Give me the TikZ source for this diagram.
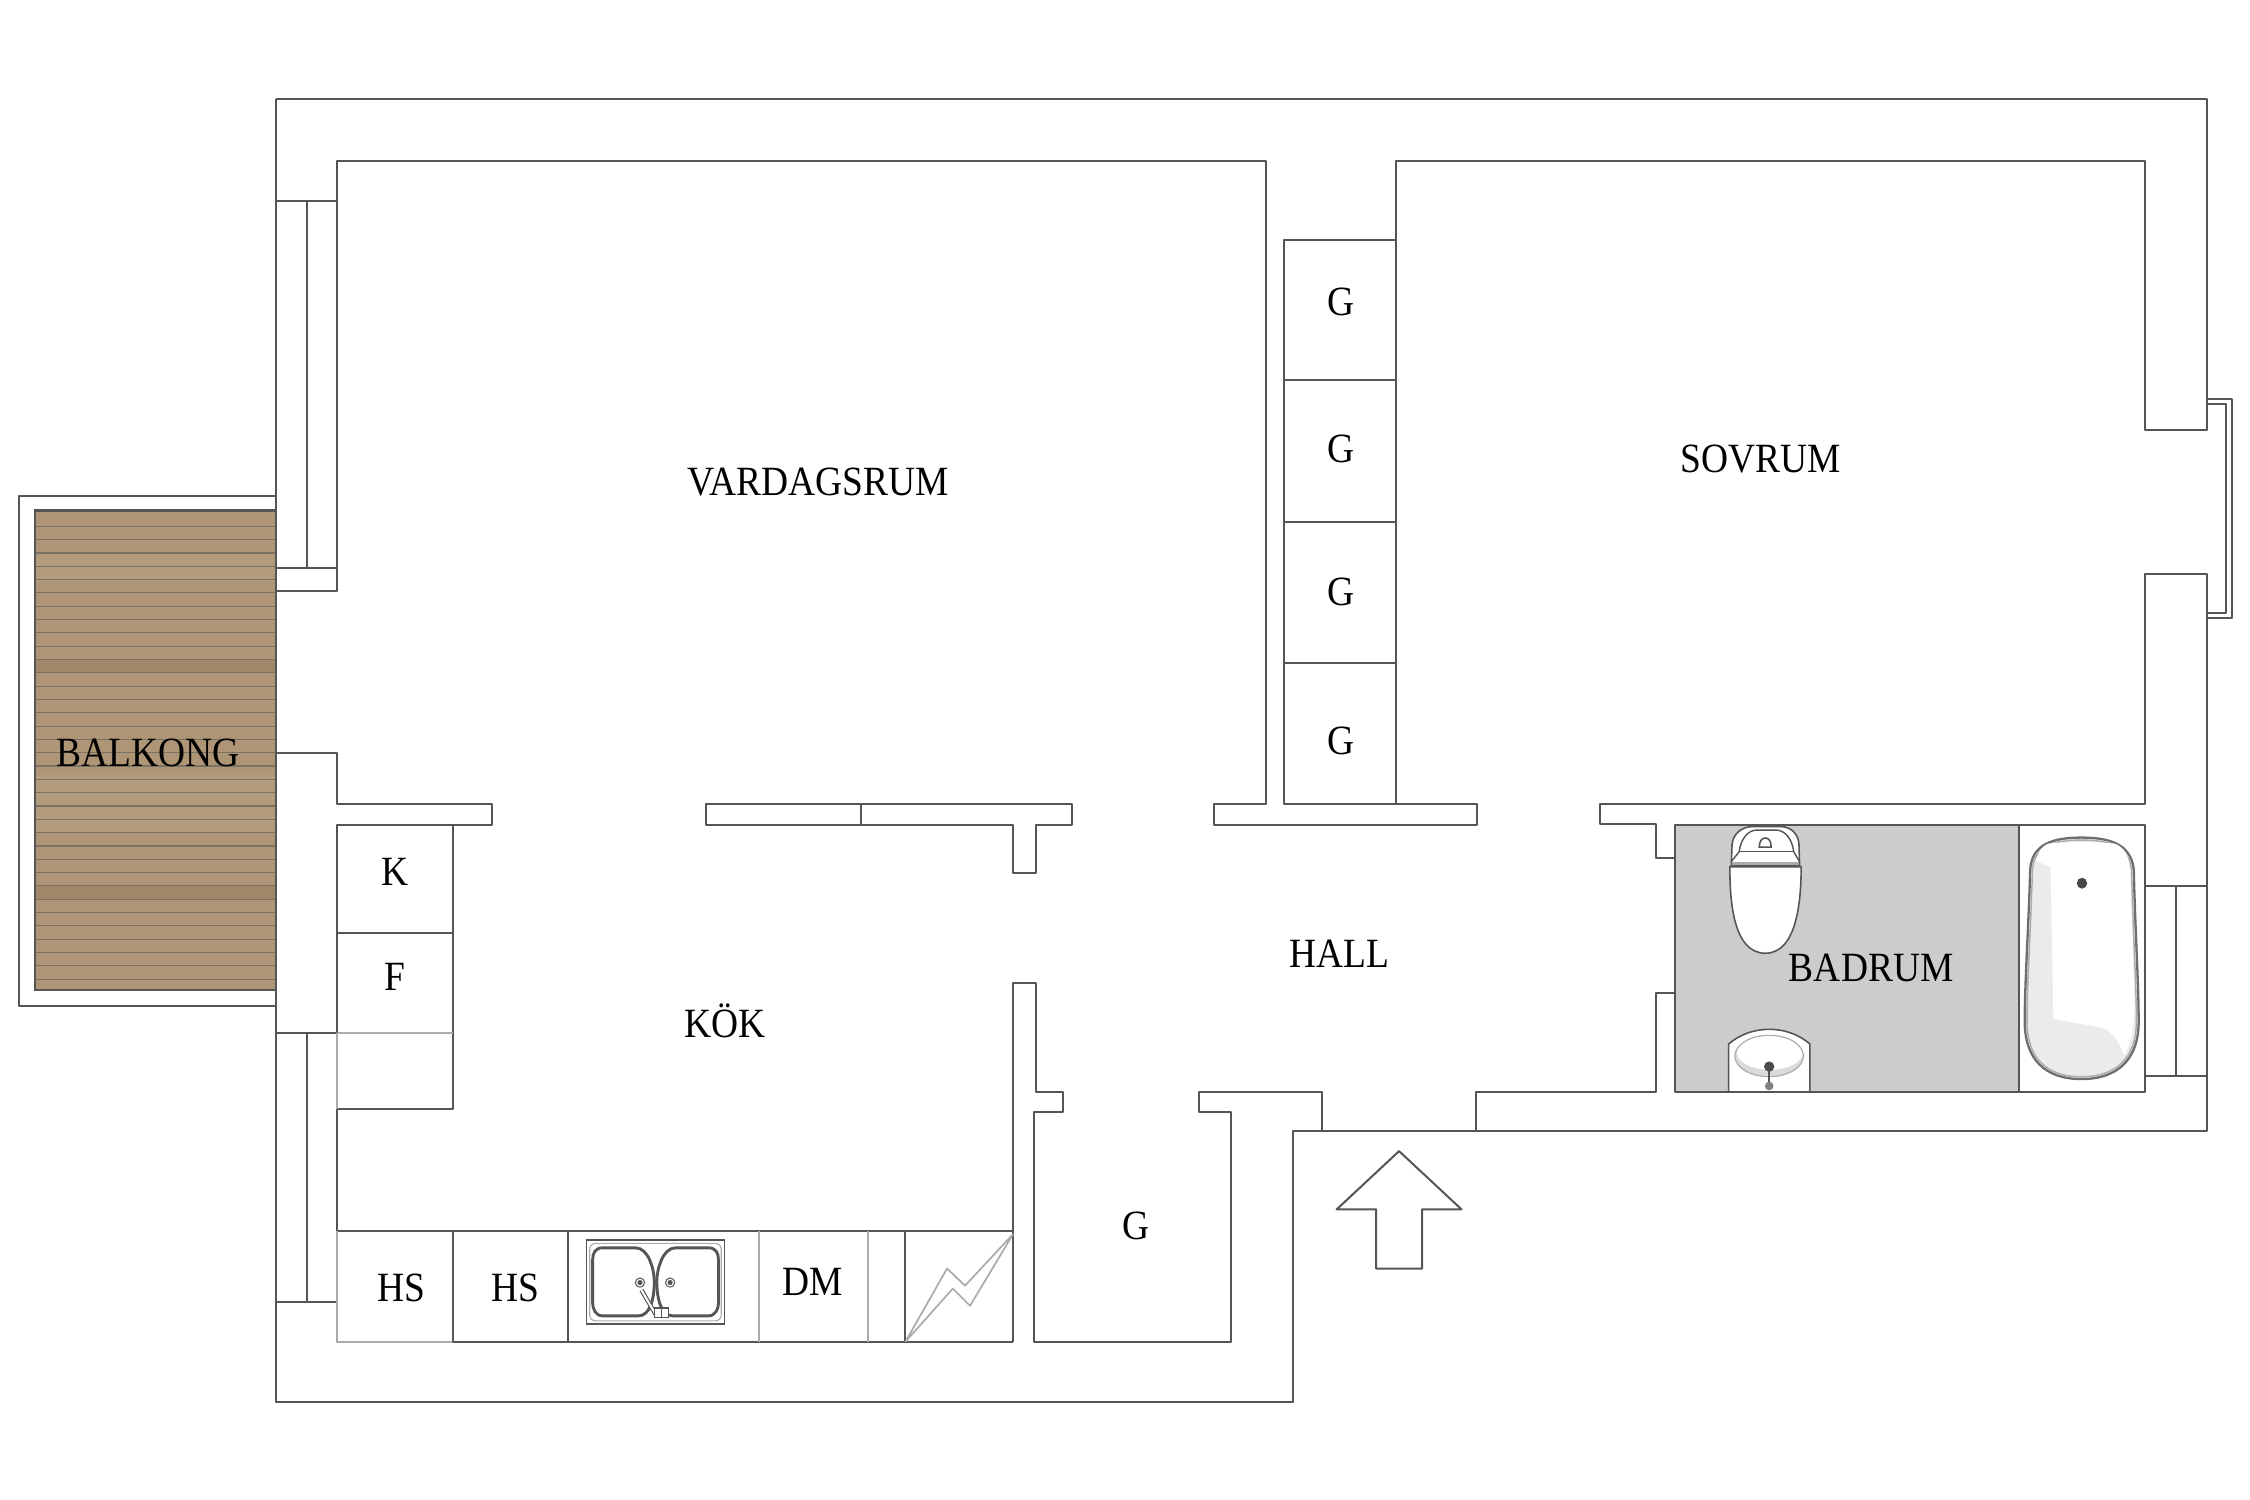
\documentclass[tikz,border=0pt]{standalone}
\usepackage{fontspec}
\setmainfont{Liberation Serif}[FakeStretch=0.9]
\usepackage{xcolor}
\usepackage{tikz}
\definecolor{palWall}{HTML}{555555}
\definecolor{palSoft}{HTML}{ABABAB}
\definecolor{palFloor}{HTML}{CCCCCC}
\definecolor{palWood}{HTML}{AD9575}
\definecolor{palWoodDk}{HTML}{A08868}
\definecolor{palWoodLt}{HTML}{B39C7C}
\definecolor{palPlank}{HTML}{7A7364}
\definecolor{palTub}{HTML}{EBEBEB}
\tikzset{
  wall/.style={draw=palWall, line width=0.7pt, line join=round},
  softline/.style={draw=palSoft, line width=0.6pt, line join=bevel},
  fixture/.style={draw=palWall, line width=0.55pt, fill=white},
  basin/.style={draw=palWall, line width=1pt},
  roomlabel/.style={font=\fontsize{14.5}{16}\selectfont, text=black, inner sep=0pt,
                    text height=9.6pt, text depth=0pt, yshift=0.3pt},
}

\begin{document}
\begin{tikzpicture}[x=0.5pt, y=-0.5pt]
\useasboundingbox (0,0) rectangle (1568,1045.33);

%% Balcony decking
\fill[palWood] (24.4,355.6) rectangle (192,690);
\fill[palWoodLt] (24.4,385) rectangle (192,405);
\fill[palWoodLt] (24.4,540) rectangle (192,580);
\fill[palWoodDk] (24.4,459) rectangle (192,469);
\fill[palWoodDk] (24.4,617) rectangle (192,627);
\foreach \i in {0,...,34}
  \draw[palPlank, line width=0.4pt] (24.4,366.8+9.28*\i) -- (192,366.8+9.28*\i);
\draw[palWall, line width=0.9pt] (192,355.6) -- (24.4,355.6) -- (24.4,690) -- (192,690);
\draw[wall] (192,346) -- (13,346) -- (13,701) -- (192,701);

%% Outer walls
\draw[wall] (192,69) -- (1538,69) -- (1538,300) -- (1495,300) -- (1495,112) -- (973,112)
  -- (973,560) -- (1029,560) -- (1029,575) -- (846,575) -- (846,560) -- (882,560)
  -- (882,112) -- (235,112) -- (235,412) -- (192,412);
\draw[wall] (192,69) -- (192,977) -- (901,977) -- (901,788) -- (1538,788) -- (1538,400)
  -- (1495,400) -- (1495,560) -- (1115,560) -- (1115,574) -- (1154,574) -- (1154,598)
  -- (1167,598);

%% Windows
\draw[wall] (192,140) -- (235,140);
\draw[wall] (214,140) -- (214,396);
\draw[wall] (192,396) -- (235,396);
\draw[wall] (192,720) -- (235,720);
\draw[wall] (214,720) -- (214,907);
\draw[wall] (192,907) -- (235,907);
\draw[wall] (1495,617.4) -- (1538,617.4);
\draw[wall] (1516.4,617.4) -- (1516.4,749.6);
\draw[wall] (1495,749.6) -- (1538,749.6);
\draw[wall] (1538,278) -- (1555.4,278) -- (1555.4,430.4) -- (1538,430.4);
\draw[wall] (1538,281.3) -- (1551.4,281.3) -- (1551.4,427.2) -- (1538,427.2);

%% Inner walls
\draw[wall] (192,525) -- (235,525) -- (235,560) -- (343,560) -- (343,575) -- (235,575) -- (235,720);
\draw[wall] (492,560) -- (747,560) -- (747,575) -- (722,575) -- (722,608.5) -- (706,608.5)
  -- (706,575) -- (492,575) -- cycle;
\draw[wall] (600,560) -- (600,575);
\draw[wall] (706,935) -- (706,685) -- (722,685) -- (722,761) -- (741,761) -- (741,775)
  -- (720.3,775) -- (720.3,935) -- (858,935) -- (858,775) -- (835.5,775) -- (835.5,761)
  -- (921.3,761) -- (921.3,788);
\draw[wall] (1028.6,788) -- (1028.6,761) -- (1154,761) -- (1154,692) -- (1167,692);

%% Wardrobes in the hall wall
\draw[wall] (973,167) -- (895,167) -- (895,560) -- (973,560);
\draw[wall] (895,265) -- (973,265);
\draw[wall] (895,363.5) -- (973,363.5);
\draw[wall] (895,462) -- (973,462);

%% Kitchen units
\draw[wall] (235,650) -- (316,650);
\draw[wall] (316,575) -- (316,772.5) -- (235,772.5) -- (235,858);
\draw[softline] (235,720) -- (316,720);
\draw[softline] (235,720) -- (235,772.5);
\draw[wall] (235,858) -- (706,858);
\draw[softline] (235,858) -- (235,935) -- (316,935);
\draw[wall] (316,935) -- (706,935);
\draw[wall] (316,858) -- (316,935);
\draw[wall] (396,858) -- (396,935);
\draw[softline] (529,858) -- (529,935);
\draw[softline] (605,858) -- (605,935);
\draw[wall] (631,858) -- (631,935);
\draw[softline] (631,935) -- (660,884) -- (672.5,896) -- (706,860) -- (676,910) -- (664,898) -- cycle;

%% Sink
\draw[fixture] (408.6,864) rectangle (505,922.8);
\draw[softline, line width=0.4pt, rounded corners=2pt] (411,866.5) rectangle (502.6,920.5);
\draw[basin] (420,869.6) -- (443,869.6) .. controls (452,869.6) and (456,885) .. (456,893)
  .. controls (456,905) and (453,917) .. (445,917) -- (420,917)
  .. controls (415,917) and (413,912) .. (413,908) -- (413,878)
  .. controls (413,873) and (415,869.6) .. (420,869.6) -- cycle;
\draw[basin] (493.7,869.6) -- (470.7,869.6) .. controls (461.7,869.6) and (457.7,885) .. (457.7,893)
  .. controls (457.7,905) and (460.7,917) .. (468.7,917) -- (493.7,917)
  .. controls (498.7,917) and (500.7,912) .. (500.7,908) -- (500.7,878)
  .. controls (500.7,873) and (498.7,869.6) .. (493.7,869.6) -- cycle;
\draw[fixture, line width=0.35pt] (446,893.8) circle (3.2);
\draw[fixture, line width=0.35pt] (467,893.8) circle (3.2);
\fill[palWall] (446,893.8) circle (1.8);
\fill[palWall] (467,893.8) circle (1.8);
\draw[palWall, line width=1.5pt] (447,899) -- (457.5,917);
\draw[white, line width=0.7pt] (447,899) -- (457.5,917);
\draw[fixture, line width=0.4pt] (456,911.5) rectangle (461,918);
\draw[fixture, line width=0.4pt] (461,911.5) rectangle (466,918);

%% Bathroom
\fill[palFloor] (1167,575) rectangle (1407,761);
\draw[wall] (1167,575) rectangle (1407,761);
\draw[wall] (1407,575) rectangle (1495,761);

%% Toilet
\draw[fixture] (1206.5,603) -- (1207,589) .. controls (1207.5,581) and (1214,576) .. (1221.5,576)
  -- (1240.4,576) .. controls (1248,576) and (1253.5,581) .. (1253.7,589) -- (1254.1,603) -- cycle;
\draw[palWall, line width=0.5pt] (1206.5,600.5) -- (1212,593.5) .. controls (1213,585) and (1218,578.5) .. (1224,578.5)
  -- (1238,578.5) .. controls (1244,578.5) and (1249,585) .. (1250,593.5) -- (1254.1,600.5);
\draw[palWall, line width=0.5pt] (1212,593.5) -- (1250,593.5);
\draw[palSoft, line width=1pt] (1207,601.5) -- (1254,601.5);
\draw[fixture] (1226,590.3) -- (1234.3,590.3) .. controls (1234.3,586) and (1232.5,584) .. (1230.2,584)
  .. controls (1228,584) and (1226,586) .. (1226,590.3) -- cycle;
\draw[fixture] (1205.5,604) -- (1255.2,604) .. controls (1255.2,625) and (1253,664.3) .. (1230.3,664.3)
  .. controls (1207,664.3) and (1205.5,625) .. (1205.5,604) -- cycle;

%% Wash basin
\draw[fixture] (1204.7,761) -- (1204.7,727.5) .. controls (1213,720.5) and (1223,717.3) .. (1233,717.3)
  .. controls (1243,717.3) and (1253,720.5) .. (1261.3,727.5) -- (1261.3,761) -- cycle;
\fill[palFloor!70!white] (1232.9,735.9) ellipse [x radius=23.9, y radius=14.4];
\fill[white] (1233.5,733.5) ellipse [x radius=23, y radius=12];
\draw[softline, line width=0.4pt] (1232.9,735.9) ellipse [x radius=23.9, y radius=14.4];
\draw[palWall, line width=0.9pt] (1232.9,743.3) -- (1232.9,756.8);
\fill[palWall!90!black] (1232.9,743.3) circle (3.6);
\fill[gray] (1232.9,756.8) circle (3);

%% Bath tub
\path[fill=palTub, draw=palWall!85, line width=0.8pt]
  (1450.5,583.7) .. controls (1470,583.7) and (1485,588) .. (1487,606)
  .. controls (1488,650) and (1490.4,685) .. (1490.4,712)
  .. controls (1490.4,738) and (1476,752) .. (1450.5,752)
  .. controls (1425,752) and (1411,738) .. (1411,712)
  .. controls (1411,685) and (1413.5,650) .. (1414.8,606)
  .. controls (1416,588) and (1431,583.7) .. (1450.5,583.7) -- cycle;
\draw[palSoft, line width=0.5pt]
  (1450.5,585.4) .. controls (1469,585.4) and (1483.5,589.5) .. (1485.4,606)
  .. controls (1486.4,650) and (1488.8,685) .. (1488.8,712)
  .. controls (1488.8,737) and (1475,750.4) .. (1450.5,750.4)
  .. controls (1426,750.4) and (1412.6,737) .. (1412.6,712)
  .. controls (1412.6,685) and (1415.1,650) .. (1416.4,606)
  .. controls (1417.5,589.5) and (1432,585.4) .. (1450.5,585.4) -- cycle;
\fill[white] (1427,588) .. controls (1440,586.5) and (1462,586.5) .. (1474,588)
  .. controls (1481,591) and (1484,597) .. (1484.6,608)
  -- (1487.5,700) .. controls (1487.5,715) and (1485,728) .. (1480.4,735)
  .. controls (1476,725) and (1472,719) .. (1465.5,716.5)
  .. controls (1455,714) and (1440,712) .. (1431,710) -- (1429,604) -- (1419,600)
  .. controls (1420,594) and (1423,590) .. (1427,588) -- cycle;
\fill[palWall!85!black] (1450.9,615.5) ellipse [x radius=3.6, y radius=3.8];

%% Entrance arrow
\draw[wall] (975,802.2) -- (1018.5,842.8) -- (991,842.8) -- (991,884) -- (959,884)
  -- (959,842.8) -- (931.5,842.8) -- cycle;

%% Room labels
\node[roomlabel] (vardagsrum) at (570,336) {VARDAGSRUM};
\node[roomlabel] (sovrum) at (1227,320) {SOVRUM};
\node[roomlabel] (balkong) at (103,525) {BALKONG};
\node[roomlabel] (kok) at (505,714) {KÖK};
\node[roomlabel] (hall) at (933.5,665) {HALL};
\node[roomlabel] (badrum) at (1304,675) {BADRUM};

%% Storage labels
\node[roomlabel] (g1) at (934.6,211) {G};
\node[roomlabel] (g2) at (934.6,313) {G};
\node[roomlabel] (g3) at (934.6,413) {G};
\node[roomlabel] (g4) at (934.6,517) {G};
\node[roomlabel] (g5) at (791.5,855) {G};
\node[roomlabel] (kyl) at (275,608) {K};
\node[roomlabel] (frys) at (275,681) {F};
\node[roomlabel] (hs1) at (279.5,898) {HS};
\node[roomlabel] (hs2) at (359.5,898) {HS};
\node[roomlabel] (dm) at (566,894) {DM};
\end{tikzpicture}
\end{document}
